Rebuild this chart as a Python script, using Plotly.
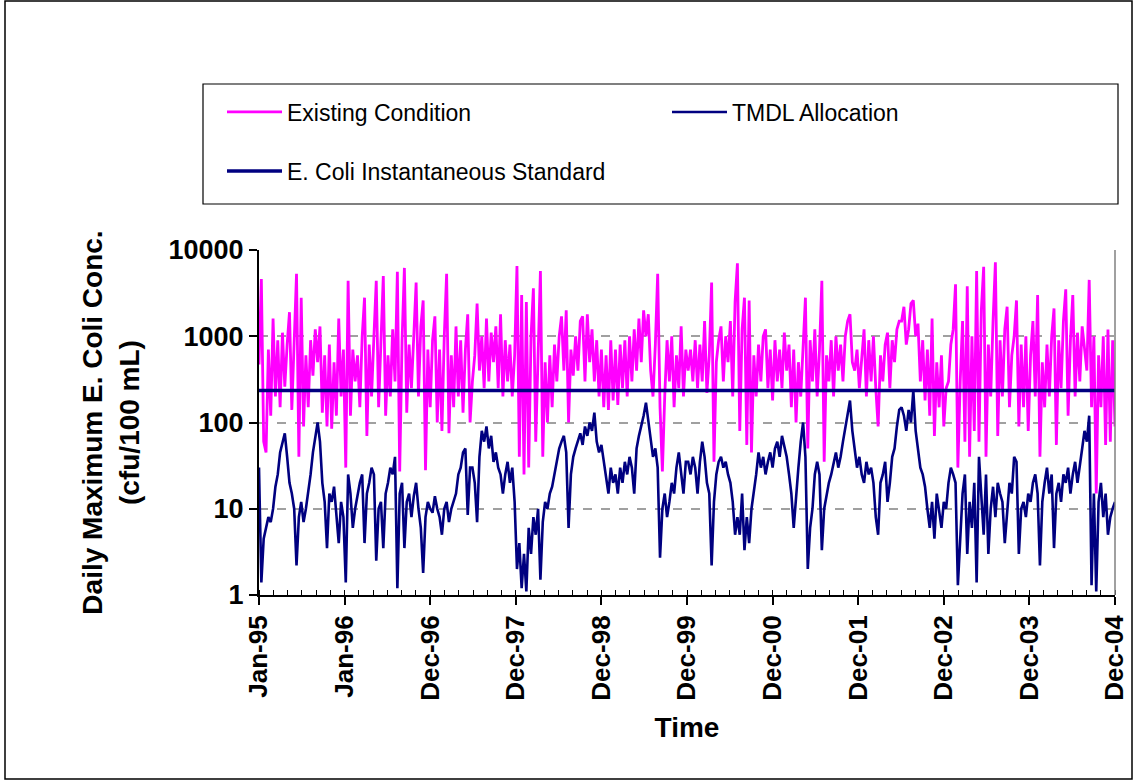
import pandas as pd
import plotly.graph_objects as go

# daily max E. coli (cfu/100 mL), every 10 days from Jan 1995
existing_condition = [
    470, 4600, 60, 45, 700, 120, 1600, 200, 900, 150, 1100, 260, 800, 1900, 140, 700,
    5300, 40, 2800, 90, 600, 150, 900, 350, 1200, 500, 1300, 130, 600, 90, 800, 85,
    500, 120, 1600, 200, 700, 30, 4400, 120, 700, 300, 600, 150, 1000, 2800, 70, 800,
    200, 1000, 4400, 150, 900, 5000, 120, 600, 200, 1200, 300, 5600, 27, 900, 6200, 130,
    800, 250, 1000, 4200, 200, 1300, 2600, 28, 700, 150, 900, 1700, 100, 700, 80, 1000,
    5300, 75, 600, 150, 1300, 200, 900, 130, 700, 1800, 100,
    300, 600, 2400, 400, 1000, 250, 1600, 300, 1100, 500, 1300, 250, 1800, 200, 900, 300,
    800, 200, 600, 6500, 40, 3000, 25, 2500, 30, 1000, 3600, 60, 800, 5700, 40, 500,
    100, 600, 150, 800, 300, 1000, 1700, 400, 2000, 100, 700, 350, 1000, 400, 1500, 1700,
    300, 1800, 500, 1200, 300, 900, 200, 700, 150, 600, 140, 900, 180, 700, 160, 800,
    250, 900, 200, 1000, 300, 1200, 400, 1600, 500, 2000, 1000, 1800, 400, 200, 800, 5300,
    150, 27, 200, 900, 300, 1000, 150, 600, 250, 1300, 200, 700,
    400, 700, 300, 900, 250, 800, 300, 1500, 220, 600, 4200, 35, 500, 900, 1300, 300,
    1000, 500, 1500, 200, 2500, 7000, 80, 1200, 2800, 55, 2600, 45, 600, 200, 800, 300,
    1000, 1200, 250, 700, 180, 900, 300, 700, 250, 1100, 400, 800, 150, 700, 100, 500,
    200, 800, 2800, 50, 900, 300, 1200, 200, 700, 4400, 35, 600, 300, 900, 200, 1000,
    400, 800, 300, 1000, 1500, 1800, 500, 400, 700, 250, 600, 1200, 200, 900, 300, 1000,
    250, 90, 600, 300, 800, 1100, 250, 900, 500, 1200, 1500,
    1500, 2200, 800, 1200, 2400, 2600, 1000, 1400, 300, 900, 180, 700, 120, 1600, 70, 500,
    150, 600, 90, 250, 300, 800, 1200, 4000, 30, 300, 1500, 60, 3800, 40, 1000, 80,
    5700, 60, 2000, 6400, 40, 800, 200, 1500, 7200, 70, 900, 200, 1200, 2200, 150, 600,
    1000, 2600, 90, 800, 150, 1000, 80, 600, 1500, 200, 3000, 40, 500, 150, 800, 200,
    1000, 2100, 55, 900, 250, 1500, 3500, 120, 900, 3000, 200, 1100, 300, 1300, 700, 400,
    4500, 150, 1000, 15, 600, 150, 1000, 55, 1200, 60, 900, 90,
]

tmdl_allocation = [
    30, 1.4, 4.5, 6, 8, 7, 10, 18, 25, 45, 60, 75, 40, 20, 15, 10,
    2.2, 8, 12, 7, 10, 15, 25, 45, 70, 100, 60, 20, 12, 3.5, 15, 12,
    18, 9, 4, 12, 8, 1.4, 25, 15, 6, 10, 14, 20, 25, 4, 15, 20,
    30, 25, 2.5, 10, 12, 3.5, 15, 20, 30, 25, 40, 1.2, 15, 20, 3.5, 12,
    15, 8, 14, 20, 10, 6, 1.8, 8, 12, 10, 9, 14, 10, 8, 5, 10,
    12, 7, 10, 12, 15, 25, 30, 45, 50, 8.5, 30,
    30, 20, 7, 40, 80, 60, 90, 50, 70, 35, 45, 30, 25, 15, 25, 35,
    20, 30, 12, 2, 4, 1.2, 3, 1.1, 6, 3, 8, 5, 10, 1.5, 7, 12,
    10, 15, 18, 25, 35, 50, 60, 70, 45, 6, 25, 40, 50, 60, 75, 55,
    90, 70, 100, 80, 130, 60, 45, 55, 35, 25, 15, 30, 20, 25, 15, 30,
    20, 35, 25, 40, 30, 15, 50, 70, 90, 120, 170, 100, 60, 40, 50, 30,
    2.7, 10, 15, 8, 12, 20, 15, 30, 45, 25, 15, 35,
    35, 25, 40, 30, 15, 35, 60, 40, 20, 15, 2.2, 12, 25, 35, 40, 30,
    35, 25, 20, 12, 5, 8, 5, 15, 3.3, 8, 4, 10, 15, 25, 45, 30,
    40, 25, 35, 45, 30, 50, 60, 40, 70, 55, 40, 25, 15, 6, 15, 30,
    60, 100, 40, 2, 6, 10, 25, 35, 25, 3.3, 10, 15, 20, 25, 35, 45,
    30, 40, 60, 90, 130, 180, 80, 50, 30, 40, 25, 20, 35, 25, 30, 20,
    8, 5, 20, 25, 35, 12, 20, 40, 50, 90, 140,
    150, 120, 80, 140, 100, 235, 80, 50, 30, 25, 18, 10, 6, 12, 4.5, 15,
    10, 6, 12, 10, 20, 30, 25, 20, 1.3, 5, 15, 25, 3, 12, 6, 20,
    1.4, 40, 15, 5, 25, 3, 10, 18, 8, 20, 15, 12, 4, 10, 20, 15,
    40, 35, 3, 10, 12, 8, 15, 12, 20, 25, 15, 2.2, 12, 20, 30, 15,
    25, 3.5, 15, 20, 12, 25, 20, 30, 15, 25, 35, 20, 30, 50, 80, 60,
    120, 1.3, 15, 1.1, 12, 20, 8, 15, 5, 8, 10, 12,
]

instantaneous_standard = 235

tick_dates = ["1995-01-01", "1996-01-01", "1996-12-31", "1997-12-31", "1998-12-31", "1999-12-31",
              "2000-12-30", "2001-12-30", "2002-12-30", "2003-12-30", "2004-12-29"]
tick_labels = ["Jan-95", "Jan-96", "Dec-96", "Dec-97", "Dec-98", "Dec-99",
               "Dec-00", "Dec-01", "Dec-02", "Dec-03", "Dec-04"]

dates = pd.date_range("1995-01-01", periods=len(existing_condition), freq="10D")

W, H = 1135, 782
L, R, T, B = 259, 1115, 250, 595
FONT = "Arial, Liberation Sans, sans-serif"


def px(x):
    return (x - L) / (R - L)


def py(y):
    return (B - y) / (B - T)


fig = go.Figure()
fig.add_trace(go.Scatter(x=dates, y=existing_condition, mode="lines", name="Existing Condition",
                         line=dict(color="#FF00FF", width=2.8), legend="legend"))
fig.add_trace(go.Scatter(x=dates, y=tmdl_allocation, mode="lines", name="TMDL Allocation",
                         line=dict(color="#000080", width=2.6), legend="legend2"))
fig.add_trace(go.Scatter(x=[dates[0], dates[-1]], y=[instantaneous_standard] * 2, mode="lines",
                         name="E. Coli Instantaneous Standard",
                         line=dict(color="#000080", width=3.5), legend="legend3"))

leg = dict(font=dict(family=FONT, size=23, color="black"), bgcolor="rgba(0,0,0,0)",
           borderwidth=0, xanchor="left", yanchor="middle", itemwidth=55)
fig.update_layout(
    width=W, height=H,
    margin=dict(l=L, r=W - R, t=T, b=H - B),
    paper_bgcolor="white", plot_bgcolor="white",
    font=dict(family=FONT, color="black"),
    showlegend=True,
    legend=dict(leg, x=px(222), y=py(112)),
    legend2=dict(leg, x=px(667), y=py(112)),
    legend3=dict(leg, x=px(222), y=py(171)),
)

fig.update_xaxes(
    type="date", range=["1995-01-01", "2004-12-29"], automargin=False,
    tickmode="array", tickvals=tick_dates, ticktext=tick_labels, tickangle=-90,
    tickfont=dict(family=FONT, size=26, color="black", weight="bold"),
    ticks="outside", ticklen=8, tickwidth=1.5, tickcolor="black",
    minor=dict(tick0="1995-01-01", dtick=5256000000, ticks="inside", ticklen=5,
               tickwidth=1, tickcolor="black", showgrid=False),
    showline=True, linecolor="black", linewidth=2, showgrid=False, zeroline=False,
    title=dict(text="<b>Time</b>", font=dict(family=FONT, size=28, color="black"), standoff=18),
)
fig.update_yaxes(
    type="log", range=[0, 4], automargin=False,
    tickvals=[1, 10, 100, 1000, 10000], ticktext=["1", "10", "100", "1000", "10000"],
    tickfont=dict(family=FONT, size=27, color="black", weight="bold"),
    ticks="outside", ticklen=8, tickwidth=1.5, tickcolor="black",
    showline=True, linecolor="black", linewidth=2,
    showgrid=True, gridcolor="#a0a0a0", gridwidth=1.5, griddash="dash", zeroline=False,
    title=dict(text="<b>Daily Maximum E. Coli Conc.<br>(cfu/100 mL)</b>",
               font=dict(family=FONT, size=28, color="black"), standoff=21),
)

# plot area right edge, legend box and outer chart border
fig.add_shape(type="line", xref="paper", yref="paper", x0=1, x1=1, y0=0, y1=1,
              line=dict(color="#808080", width=1.5))
fig.add_shape(type="rect", xref="paper", yref="paper", x0=px(203), x1=px(1118), y0=py(204), y1=py(84),
              line=dict(color="black", width=1.2))
fig.add_shape(type="rect", xref="paper", yref="paper", x0=px(5), x1=px(1132), y0=py(779), y1=py(1),
              line=dict(color="black", width=1.5))

fig.write_html("out.html", config={"displayModeBar": False},
               post_script="document.body.style.margin='0';")
